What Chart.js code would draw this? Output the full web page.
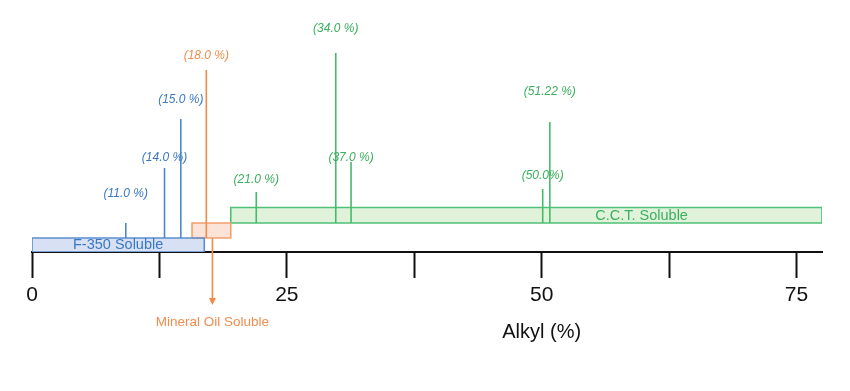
<!DOCTYPE html>
<html>
<head>
<meta charset="utf-8">
<title>Alkyl (%) solubility</title>
<script src="https://cdn.jsdelivr.net/npm/chart.js@4.4.1/dist/chart.umd.min.js"></script>
<style>
  html, body { margin: 0; padding: 0; background: #fff; }
</style>
</head>
<body>
<canvas id="myChart" width="850" height="391"></canvas>
<script>
// solubility bands (alkyl %), heights are in arbitrary drawing units
const bandNames = ['F-350 Soluble', 'Mineral Oil Soluble', 'C.C.T. Soluble'];
const bandStart = [0, 15.7, 19.5];
const bandEnd = [16.9, 19.5, 77.5];
const bandBottom = [0, 14, 29];
const bandTop = [14, 29, 44.5];

// marker lines with their labels
const markerLabels = ['(11.0 %)', '(14.0 %)', '(15.0 %)', '(18.0 %)', '(21.0 %)', '(34.0 %)', '(37.0 %)', '(50.0%)', '(51.22 %)'];
const markerX = [9.2, 13.0, 14.6, 17.1, 22.0, 29.8, 31.3, 50.1, 50.8];
const markerBase = [14, 14, 14, 14, 29, 29, 29, 29, 29];
const markerTop = [29, 84, 133, 182, 60, 199, 90, 63, 130];
const markerLabelY = [58, 94, 152, 196, 72, 223, 94, 76, 160];
const markerBand = [0, 0, 0, 1, 2, 2, 2, 2, 2];

// mineral oil arrow below the axis
const arrowX = [17.7, 17.7];
const arrowY = [14, -51];

// axis
const xTicks = [0, 12.5, 25, 37.5, 50, 62.5, 75];
const xTickLabels = ['0', '', '25', '', '50', '', '75'];
const xTitle = 'Alkyl (%)';

// label placement
const bandLabelX = [8.45, 17.7, 59.8];
const bandLabelY = [7, -70, 36.5];
const bandLabelSize = [14.5, 13.5, 14.5];

const fontFamily = '"Liberation Sans", Arial, Helvetica, sans-serif';
const lineColors = ['#4d88cc', '#f08c4a', '#45bb6a'];
const textColors = ['#3b78c2', '#f08d50', '#3cae5e'];
const fillColors = ['#d8e1f3', '#fbe3d8', '#e1f2db'];
const borderColors = ['#5b8fd1', '#f2a06c', '#4fc078'];

const datasets = [];

// band fills
bandNames.forEach(function(name, i) {
    datasets.push({
        label: name + ' fill',
        data: [{x: bandStart[i], y: bandTop[i]}, {x: bandEnd[i], y: bandTop[i]}],
        fill: {value: bandBottom[i]},
        backgroundColor: fillColors[i],
        borderWidth: 0,
        pointRadius: 0,
        order: 3
    });
});

// band outlines
bandNames.forEach(function(name, i) {
    datasets.push({
        label: name,
        data: [
            {x: bandStart[i], y: bandBottom[i]},
            {x: bandEnd[i], y: bandBottom[i]},
            {x: bandEnd[i], y: bandTop[i]},
            {x: bandStart[i], y: bandTop[i]},
            {x: bandStart[i], y: bandBottom[i]}
        ],
        fill: false,
        borderColor: borderColors[i],
        borderWidth: 1.6,
        pointRadius: 0,
        order: 2
    });
});

// marker lines
markerLabels.forEach(function(lbl, i) {
    datasets.push({
        label: lbl,
        data: [{x: markerX[i], y: markerBase[i]}, {x: markerX[i], y: markerTop[i]}],
        fill: false,
        borderColor: lineColors[markerBand[i]],
        borderWidth: 1.6,
        pointRadius: 0,
        order: 1
    });
});

// arrow down to the mineral oil label
datasets.push({
    label: 'arrow',
    data: arrowX.map(function(x, i) { return {x: x, y: arrowY[i]}; }),
    fill: false,
    borderColor: lineColors[1],
    borderWidth: 1.6,
    pointRadius: 0,
    clip: false,
    order: 0
});

const labelPlugin = {
    id: 'labelPlugin',
    afterDatasetsDraw: function(chart) {
        const ctx = chart.ctx;
        const xs = chart.scales.x;
        const ys = chart.scales.y;
        ctx.save();

        // arrow head (points outside the chart area are not drawn by chart.js)
        const meta = chart.getDatasetMeta(chart.data.datasets.length - 1);
        const tip = meta.data[meta.data.length - 1];
        ctx.fillStyle = lineColors[1];
        ctx.beginPath();
        ctx.moveTo(tip.x - 3.5, tip.y - 5);
        ctx.lineTo(tip.x + 3.5, tip.y - 5);
        ctx.lineTo(tip.x, tip.y + 2);
        ctx.closePath();
        ctx.fill();

        ctx.textAlign = 'center';
        ctx.textBaseline = 'middle';

        ctx.font = 'italic 12px ' + fontFamily;
        markerLabels.forEach(function(lbl, i) {
            ctx.fillStyle = textColors[markerBand[i]];
            ctx.fillText(lbl, xs.getPixelForValue(markerX[i]), ys.getPixelForValue(markerLabelY[i]));
        });

        bandNames.forEach(function(name, i) {
            ctx.font = bandLabelSize[i] + 'px ' + fontFamily;
            ctx.fillStyle = textColors[i];
            ctx.fillText(name, xs.getPixelForValue(bandLabelX[i]), ys.getPixelForValue(bandLabelY[i]));
        });

        // axis title sits under the 50 tick
        ctx.font = '20px ' + fontFamily;
        ctx.fillStyle = '#111';
        ctx.fillText(xTitle, xs.getPixelForValue(50), 332);
        ctx.restore();
    }
};

const config = {
    type: 'line',
    data: { datasets: datasets },
    options: {
        responsive: false,
        animation: false,
        layout: { padding: { left: 32, right: 28, top: 0, bottom: 0 } },
        plugins: {
            legend: { display: false },
            tooltip: { enabled: false }
        },
        scales: {
            x: {
                type: 'linear',
                min: 0,
                max: 77.5,
                afterBuildTicks: function(scale) {
                    scale.ticks = xTicks.map(function(v) { return {value: v}; });
                },
                afterFit: function(scale) { scale.height = 139; },
                ticks: {
                    autoSkip: false,
                    maxRotation: 0,
                    padding: 5,
                    color: '#111',
                    font: { size: 21, family: fontFamily },
                    callback: function(value, index) { return xTickLabels[index]; }
                },
                grid: {
                    drawOnChartArea: false,
                    drawTicks: true,
                    tickLength: 26,
                    tickColor: '#111',
                    tickWidth: 2
                },
                border: { display: true, color: '#111', width: 2 }
            },
            y: {
                display: false,
                min: 0,
                max: 252
            }
        }
    },
    plugins: [labelPlugin]
};

const myChart = new Chart(document.getElementById('myChart'), config);
</script>
</body>
</html>
